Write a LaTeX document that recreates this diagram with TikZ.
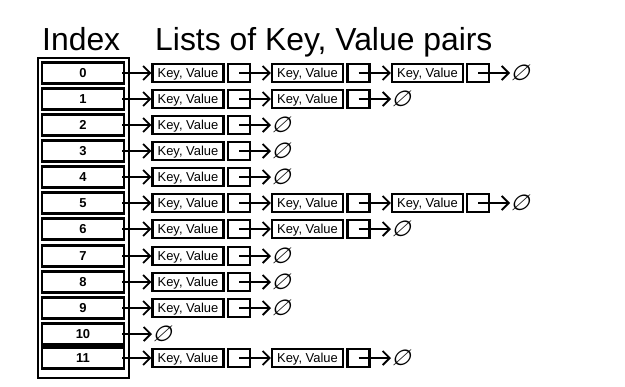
\documentclass[tikz,border=0pt]{standalone}
\usepackage{fontspec}
\setmainfont{Liberation Sans}
\newfontfamily\emptysetfont{DejaVu Sans}[FakeSlant=0.3]
\usetikzlibrary{arrows.meta}
\begin{document}
\begin{tikzpicture}[x=1bp,y=-1bp,
 idx/.style={draw, line width=2.4bp, minimum width=82bp, minimum height=21bp, inner sep=0pt, text height=9.5bp, text depth=0pt, font=\bfseries\fontsize{13}{13}\selectfont},
 kv/.style={draw, line width=2.2bp, minimum width=71bp, minimum height=17.5bp, inner sep=0pt, text height=9.3bp, text depth=0pt, font=\fontsize{13}{13}\selectfont},
 ptr/.style={draw, line width=2.2bp, minimum width=22bp, minimum height=17.5bp, inner sep=0pt},
 arr/.style={line width=1.8bp, -{Straight Barb[length=7bp,width=14bp]}},
 nul/.style={inner sep=0pt, anchor=west, font=\emptysetfont\fontsize{22}{22}\selectfont},
 ttl/.style={anchor=base west, inner sep=0pt, font=\fontsize{32}{32}\selectfont},
 frm/.style={draw, line width=2.4bp, minimum width=91bp, minimum height=320bp, inner sep=0pt}]
\useasboundingbox (0,0) rectangle (625,386);
\node[ttl] (t1) at (42,50) {Index};
\node[ttl] (t2) at (155,50) {Lists of Key, Value pairs};
\node[frm] (frame) at (83.5,218) {};
\foreach \i/\y/\n in {0/73/3,1/99/2,2/125/1,3/151/1,4/177/1,5/203/3,6/229/2,7/256/1,8/282/1,9/308/1,10/334/0,11/358/2}{
  \node[idx] (i\i) at (83,\y) {\i};
  \ifnum\n=0
    \node[nul] (z\i) at (152,\y) {∅};
    \draw[arr] ([xshift=-3bp]i\i.east) -- (z\i.west);
  \else
    \node[kv] (ka\i) at (188,\y) {Key, Value};
    \node[ptr] (pa\i) at (239,\y) {};
    \draw[arr] ([xshift=-3bp]i\i.east) -- (ka\i.west);
    \ifnum\n=1
      \node[nul] (z\i) at (271,\y) {∅};
      \draw[arr] (pa\i.center) -- (z\i.west);
    \else
      \node[kv] (kb\i) at (307.5,\y) {Key, Value};
      \node[ptr] (pb\i) at (358.5,\y) {};
      \draw[arr] (pa\i.center) -- (kb\i.west);
      \ifnum\n=2
        \node[nul] (z\i) at (391,\y) {∅};
        \draw[arr] (pb\i.center) -- (z\i.west);
      \else
        \node[kv] (kc\i) at (427.5,\y) {Key, Value};
        \node[ptr] (pc\i) at (478,\y) {};
        \draw[arr] (pb\i.center) -- (kc\i.west);
        \node[nul] (z\i) at (510,\y) {∅};
        \draw[arr] (pc\i.center) -- (z\i.west);
      \fi
    \fi
  \fi
}
\end{tikzpicture}
\end{document}
